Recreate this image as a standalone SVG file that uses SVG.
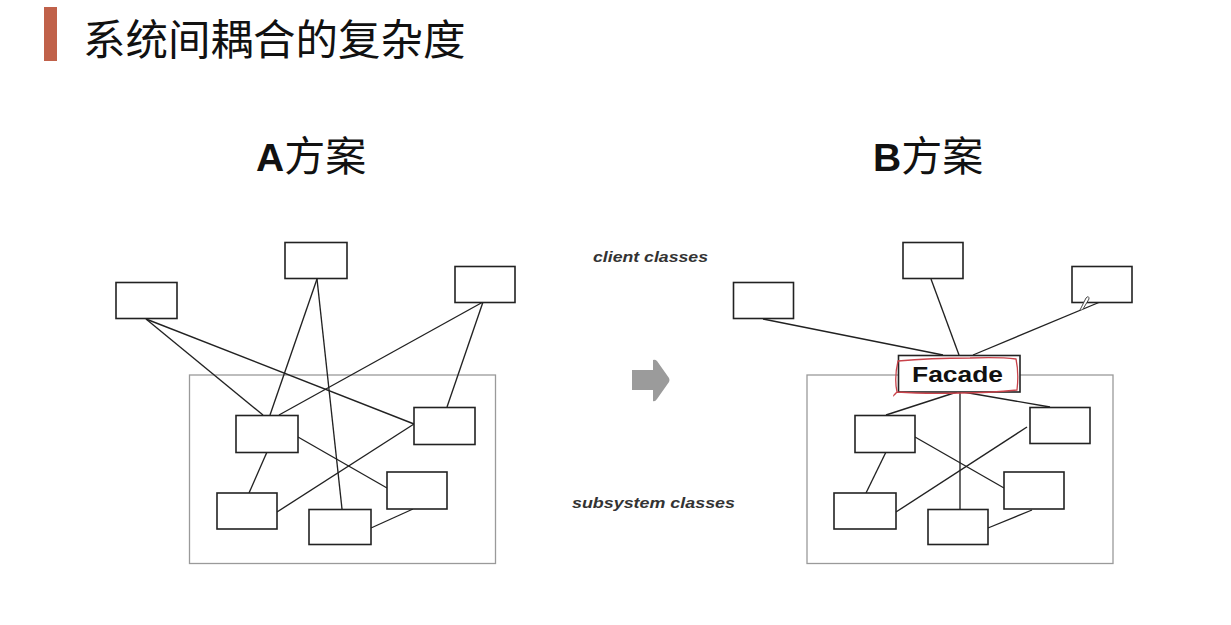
<svg xmlns="http://www.w3.org/2000/svg" width="1231" height="625" viewBox="0 0 1231 625">
  <style>
    .box { fill: #ffffff; stroke: #222222; stroke-width: 1.6; }
    .container { fill: none; stroke: #9a9a9a; stroke-width: 1.3; }
    .conn line { stroke: #222222; stroke-width: 1.35; }
    .title { font-family: "Noto Sans CJK SC", "Noto Sans", sans-serif; font-size: 42.5px; fill: #111111; }
    .plan { font-family: "Liberation Sans", Arial, "Noto Sans CJK SC", sans-serif; font-size: 39px; fill: #111111; }
    .plan .latin { font-weight: bold; }
    .cap { font-family: "Liberation Sans", Arial, sans-serif; font-weight: bold; font-style: italic; font-size: 15.5px; fill: #333333; }
    .facade { font-family: "Liberation Sans", Arial, sans-serif; font-weight: bold; font-size: 21.5px; fill: #111111; }
  </style>
  <rect width="1231" height="625" fill="#ffffff"/>

  <!-- Title -->
  <g id="title">
    <rect x="44" y="7" width="13" height="54" fill="#C0614A"/>
    <text class="title" x="83" y="55">系统间耦合的复杂度</text>
  </g>

  <g id="label-a"><text class="plan" x="256" y="171"><tspan class="latin">A</tspan><tspan font-family="Noto Sans CJK SC, sans-serif" font-size="41">方案</tspan></text></g>
  <g id="label-b"><text class="plan" x="873" y="171"><tspan class="latin">B</tspan><tspan font-family="Noto Sans CJK SC, sans-serif" font-size="41">方案</tspan></text></g>

  <g id="label-client"><text class="cap" x="593" y="262" textLength="115" lengthAdjust="spacingAndGlyphs">client classes</text></g>
  <g id="label-subsystem"><text class="cap" x="572" y="508" textLength="163" lengthAdjust="spacingAndGlyphs">subsystem classes</text></g>

  <!-- Arrow -->
  <g id="arrow">
    <path d="M632,370 L653,370 L653,360 Q655,359 657,361 L669,378 Q670,380 669,382 L657,399 Q655,402 653,401 L653,390 L632,390 Z" fill="#9b9b9b"/>
  </g>

  <!-- Containers -->
  <g id="a-subsystem"><rect class="container" x="189.5" y="375" width="306" height="188.5"/></g>
  <g id="b-subsystem"><rect class="container" x="807" y="375" width="306" height="188.5"/></g>

  <!-- Connectors -->
  <g id="connectors" class="conn">
    <!-- A -->
    <line x1="146" y1="319" x2="263" y2="415"/>
    <line x1="146" y1="319" x2="414" y2="424"/>
    <line x1="317" y1="279" x2="270" y2="415"/>
    <line x1="317" y1="279" x2="342" y2="509"/>
    <line x1="483" y1="302" x2="279" y2="415"/>
    <line x1="483" y1="302" x2="447" y2="407"/>
    <line x1="267" y1="452" x2="249" y2="493"/>
    <line x1="298" y1="437" x2="387" y2="488"/>
    <line x1="414" y1="424" x2="277" y2="512"/>
    <line x1="413" y1="509" x2="371" y2="528"/>
    <!-- B -->
    <line x1="763" y1="319" x2="943" y2="355"/>
    <line x1="931" y1="279" x2="959" y2="355"/>
    <line x1="1100" y1="302" x2="973" y2="355"/>
    <line x1="957" y1="392" x2="886" y2="415"/>
    <line x1="963" y1="392" x2="1050" y2="407"/>
    <line x1="960" y1="392" x2="960" y2="509"/>
    <line x1="886" y1="452" x2="866" y2="493"/>
    <line x1="915" y1="437" x2="1004" y2="488"/>
    <line x1="1027" y1="427" x2="896" y2="512"/>
    <line x1="1032" y1="510" x2="988" y2="528"/>
  </g>

  <!-- A nodes -->
  <g id="a-client-1"><rect class="box" x="116" y="282.5" width="61" height="36"/></g>
  <g id="a-client-2"><rect class="box" x="285" y="242.5" width="62" height="36"/></g>
  <g id="a-client-3"><rect class="box" x="455" y="266.5" width="60" height="36"/></g>
  <g id="a-sub-1"><rect class="box" x="236" y="415.5" width="62" height="37"/></g>
  <g id="a-sub-2"><rect class="box" x="414" y="407.5" width="61" height="37"/></g>
  <g id="a-sub-3"><rect class="box" x="217" y="493" width="60" height="36"/></g>
  <g id="a-sub-4"><rect class="box" x="387" y="472" width="60" height="37"/></g>
  <g id="a-sub-5"><rect class="box" x="309" y="509.5" width="62" height="35"/></g>

  <!-- B nodes -->
  <g id="b-client-1"><rect class="box" x="733.5" y="282.5" width="60" height="36"/></g>
  <g id="b-client-2"><rect class="box" x="903" y="242.5" width="60" height="36"/></g>
  <g id="b-client-3">
    <rect class="box" x="1072" y="266.5" width="60" height="36"/>
    <path d="M1080,310 L1086,298 Q1089,295 1089,299 L1083,309" fill="#ffffff" stroke="#333333" stroke-width="0.9"/>
  </g>
  <g id="b-sub-1"><rect class="box" x="855" y="415.5" width="60" height="37"/></g>
  <g id="b-sub-2"><rect class="box" x="1030" y="407.5" width="60" height="36"/></g>
  <g id="b-sub-3"><rect class="box" x="834" y="493" width="62" height="36"/></g>
  <g id="b-sub-4"><rect class="box" x="1004" y="472" width="60" height="37"/></g>
  <g id="b-sub-5"><rect class="box" x="928" y="509.5" width="60" height="35"/></g>

  <g id="b-facade">
    <rect class="box" x="898.5" y="355.5" width="121.5" height="36.5"/>
    <text class="facade" x="912" y="381.5" textLength="91" lengthAdjust="spacingAndGlyphs">Facade</text>
    <path d="M898,361 Q930,358 970,358 Q1000,357 1016,359 Q1019,373 1017,390 Q990,393 960,393 Q925,394 897,392 Q894,378 898,361 Z M897,392 Q893,396 894,396" fill="none" stroke="#c9424a" stroke-width="1.3"/>
  </g>
</svg>
